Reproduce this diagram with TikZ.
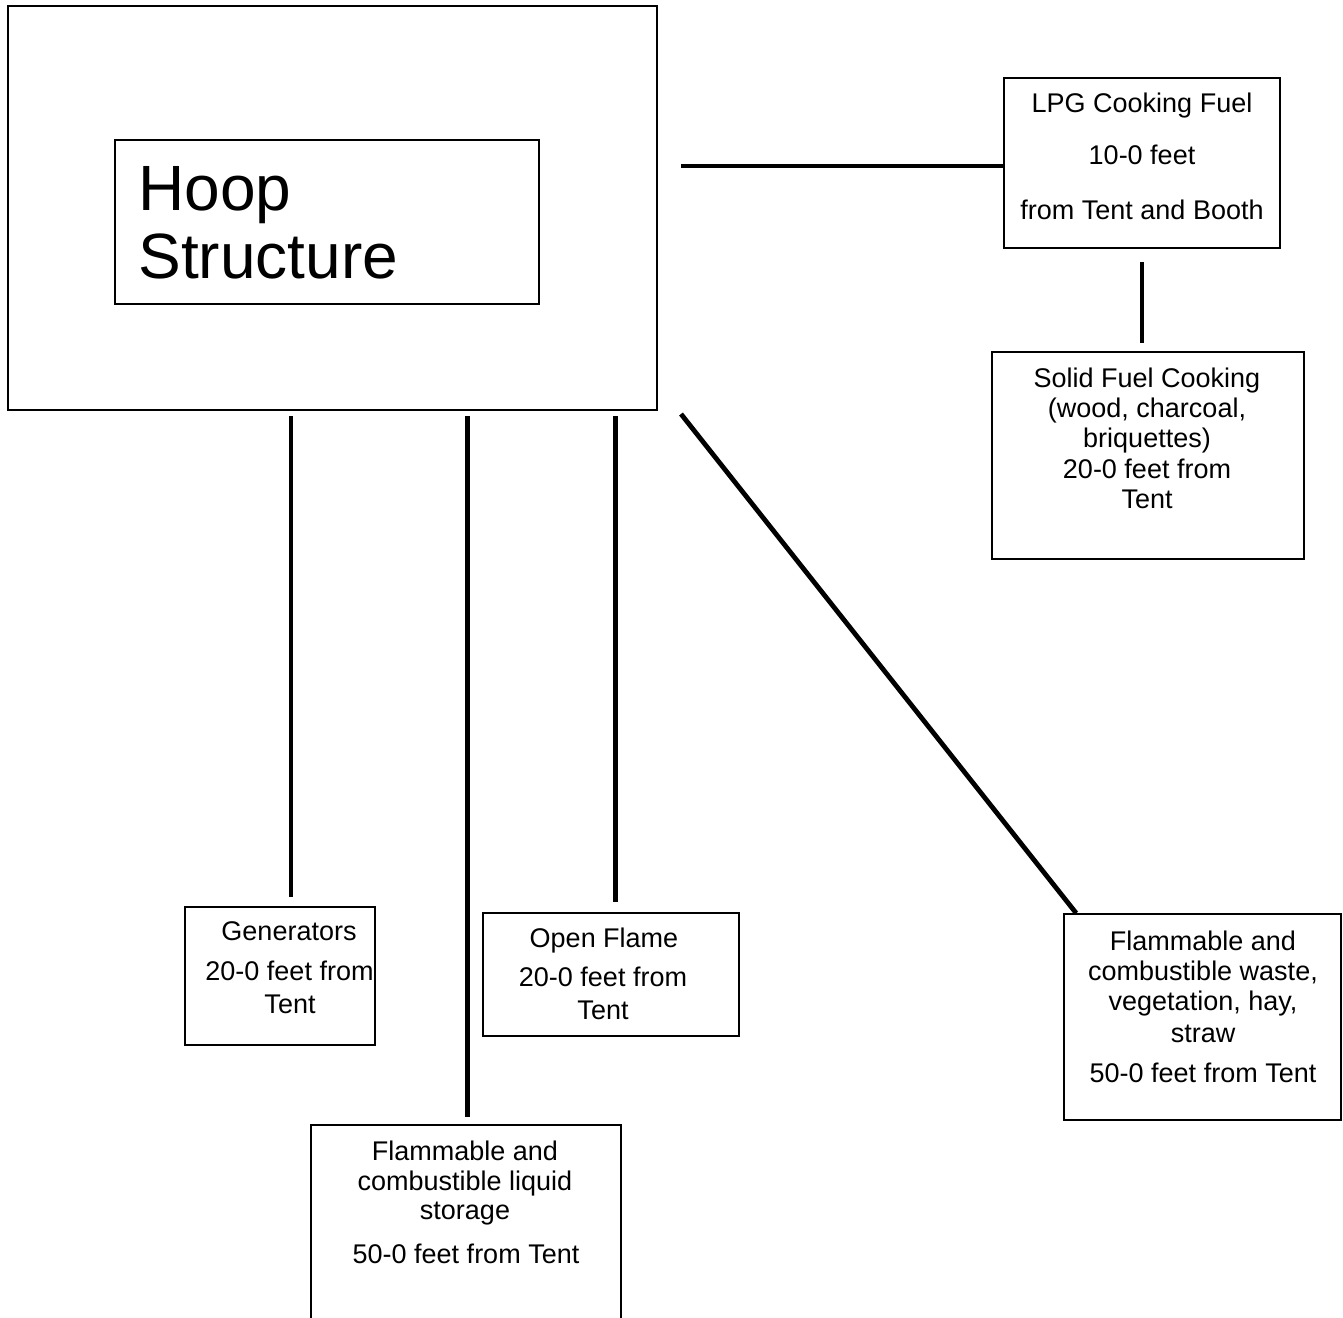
\documentclass[tikz,border=0pt]{standalone}
\usepackage{fontspec}
\setmainfont{Liberation Sans}
\usetikzlibrary{fit,calc}
\begin{document}
\begin{tikzpicture}[x=0.5pt,y=-0.5pt,
  box/.style={draw=black, line width=0.8pt, inner sep=0pt},
  conn/.style={draw=black, line width=2.4pt},
  txt/.style={inner sep=0pt, anchor=base, font=\fontsize{13.5}{16}\selectfont},
  big/.style={inner sep=0pt, anchor=base west, font=\fontsize{32}{38}\selectfont}]
\useasboundingbox (0,0) rectangle (1343,1317);
\clip (0,0) rectangle (1343,1317);
\fill[white] (0,0) rectangle (1343,1317);

% boxes
\node[box, fit={(8,6)(657,410)}] (outer) {};
\node[box, fit={(115,140)(539,304)}] (hoop) {};
\node[box, fit={(1004,78)(1280,248)}] (lpg) {};
\node[box, fit={(992,352)(1304,559)}] (solid) {};
\node[box, fit={(185,907)(375,1045)}] (gen) {};
\node[box, fit={(483,913)(739,1036)}] (flame) {};
\node[box, fit={(311,1125)(621,1340)}] (liquid) {};
\node[box, fit={(1064,914)(1341,1120)}] (waste) {};

% texts
\node[big] (h1) at (138,210) {Hoop};
\node[big] (h2) at (138,278) {Structure};

\node[txt] (l1) at (1142,112) {LPG Cooking Fuel};
\node[txt] (l2) at (1142,164) {10-0 feet};
\node[txt] (l3) at (1142,219) {from Tent and Booth};

\node[txt] (s1) at (1147,387) {Solid Fuel Cooking};
\node[txt] (s2) at (1147,417) {(wood, charcoal,};
\node[txt] (s3) at (1147,447) {briquettes)};
\node[txt] (s4) at (1147,478) {20-0 feet from};
\node[txt] (s5) at (1147,508) {Tent};

\node[txt] (g1) at (289,940) {Generators};
\node[txt] (g2) at (289.5,980) {20-0 feet from};
\node[txt] (g3) at (290,1013) {Tent};

\node[txt] (f1) at (604,947) {Open Flame};
\node[txt] (f2) at (603,986) {20-0 feet from};
\node[txt] (f3) at (603,1019) {Tent};

\node[txt] (q1) at (465,1160) {Flammable and};
\node[txt] (q2) at (465,1190) {combustible liquid};
\node[txt] (q3) at (465,1219) {storage};
\node[txt] (q4) at (466,1263) {50-0 feet from Tent};

\node[txt] (w1) at (1203,950) {Flammable and};
\node[txt] (w2) at (1203,980) {combustible waste,};
\node[txt] (w3) at (1203,1010) {vegetation, hay,};
\node[txt] (w4) at (1203,1042) {straw};
\node[txt] (w5) at (1203,1082) {50-0 feet from Tent};

% connector ends
\coordinate (cl) at (681,166);
\coordinate (cs) at (1142,262);
\coordinate (cg) at (291,416);
\coordinate (cq) at (467.5,416);
\coordinate (cf) at (615.5,416);
\coordinate (cw) at (681,414);

% connectors
\draw[conn] (cl) -- (cl -| lpg.west);
\draw[conn, shorten >=4pt] (cs) -- (cs |- solid.north);
\draw[conn, shorten >=4.5pt] (cg) -- (cg |- gen.north);
\draw[conn, shorten >=3.5pt] (cq) -- (cq |- liquid.north);
\draw[conn, shorten >=5pt] (cf) -- (cf |- flame.north);
\draw[conn] (cw) -- ($(waste.north west)+(13,0)$);
\end{tikzpicture}
\end{document}
